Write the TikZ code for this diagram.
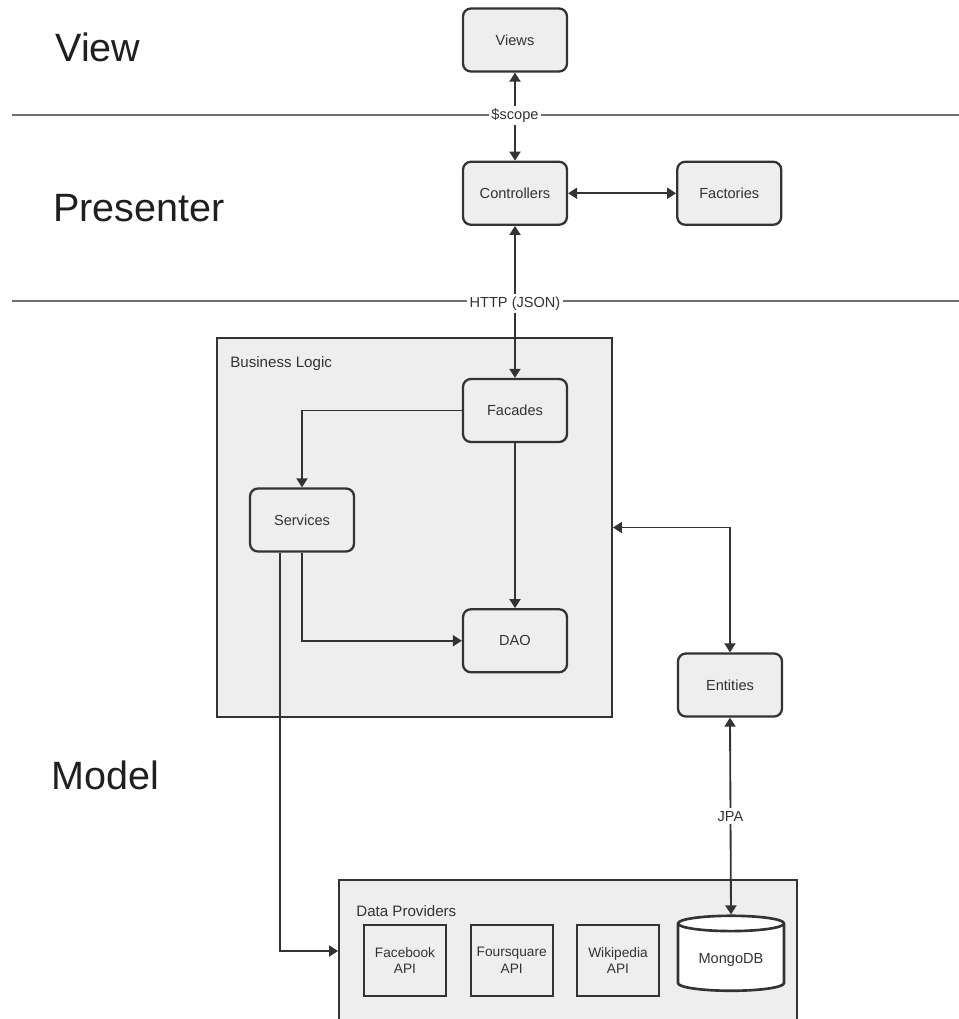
\documentclass[tikz,border=0pt]{standalone}
\usepackage{fontspec}
\setmainfont{Liberation Sans}
\usetikzlibrary{arrows.meta,positioning,shapes.geometric}
\definecolor{ink}{HTML}{333333}
\definecolor{panel}{HTML}{EEEEEE}
\definecolor{rulegray}{HTML}{6E6E6E}

\begin{document}
\begin{tikzpicture}[x=0.02cm, y=-0.02cm,
  comp/.style={draw=ink, line width=1.3pt, rounded corners=4.5pt, fill=panel,
    minimum width=2.08cm, minimum height=1.26cm, align=center,
    font=\fontsize{8.3}{9.8}\selectfont, text=ink},
  apibox/.style={draw=ink, line width=1pt, fill=panel, minimum width=1.64cm,
    minimum height=1.42cm, inner xsep=1pt, align=center,
    font=\fontsize{7.8}{9.6}\selectfont, text=ink},
  dbbox/.style={cylinder, shape border rotate=90, aspect=0.2, draw=ink,
    line width=1.5pt, fill=white, minimum width=2.12cm, minimum height=1.5cm,
    font=\fontsize{8.3}{9.8}\selectfont, text=ink},
  group/.style={draw=ink, line width=1.1pt, fill=panel},
  grplbl/.style={font=\fontsize{8.6}{10}\selectfont, text=ink, anchor=west, inner sep=0pt},
  layer/.style={font=\fontsize{22.5}{26}\selectfont, text=black!88, anchor=west, inner sep=0pt},
  divider/.style={draw=rulegray, line width=1.6pt},
  link/.style={draw=ink, line width=1.05pt, -{Triangle[length=1.8mm, width=2.2mm]}},
  twoway/.style={link, {Triangle[length=1.8mm, width=2.2mm]}-{Triangle[length=1.8mm, width=2.2mm]}},
  tag/.style={fill=white, font=\fontsize{8.3}{9.8}\selectfont, text=ink, inner sep=1.5pt}
]
\clip (0,0) rectangle (959,1019);

% layer names and separators
\node[layer] (lview)  at (55,47)  {View};
\node[layer] (lpres)  at (53,208) {Presenter};
\node[layer] (lmodel) at (51,775) {Model};
\draw[divider] (12,115) -- (959,115);
\draw[divider] (12,301) -- (959,301);

% model containers
\node[group, minimum width=7.9cm, minimum height=7.58cm] (logic) at (414.5,527.5) {};
\node[grplbl] (logiclbl) at (230,364) {Business Logic};
\node[group, minimum width=9.16cm, minimum height=2.84cm] (providers) at (568,951) {};
\node[grplbl] (providerslbl) at (356,911) {Data Providers};

% view / presenter
\node[comp] (views) at (515,40) {Views};
\node[comp, below=1.76cm of views] (controllers) {Controllers};
\node[comp, right=2.16cm of controllers] (factories) {Factories};

% business logic
\node[comp, below=3.04cm of controllers] (facades) {Facades};
\node[comp, below=3.3cm of facades] (dao) {DAO};
\node[comp] (services) at (302,520) {Services};
\node[comp] (entities) at (730,685) {Entities};

% data providers
\node[apibox] (facebook) at (405,960.5) {Facebook\\API};
\node[apibox, right=0.46cm of facebook] (foursquare) {Foursquare\\API};
\node[apibox, right=0.45cm of foursquare] (wikipedia) {Wikipedia\\API};
\node[dbbox] (mongo) at (731,959.5) {MongoDB};

% connectors
\draw[twoway] (controllers.north) -- (views.south) node[tag, pos=0.51] {\$scope};
\draw[twoway] (controllers) -- (factories);
\draw[twoway] (controllers.south) -- (facades.north) node[tag, pos=0.513] {HTTP (JSON)};
\draw[link] (facades.west) -| (services.north);
\draw[link] (facades) -- (dao);
\draw[link] (services.south) |- (dao.west);
\draw[link] ([xshift=-0.44cm]services.south) |- (providers.west);
\draw[twoway] (logic.east) -| (entities.north);
\draw[twoway] (entities.south) -- (mongo.top) node[tag, midway] {JPA};
\end{tikzpicture}
\end{document}
